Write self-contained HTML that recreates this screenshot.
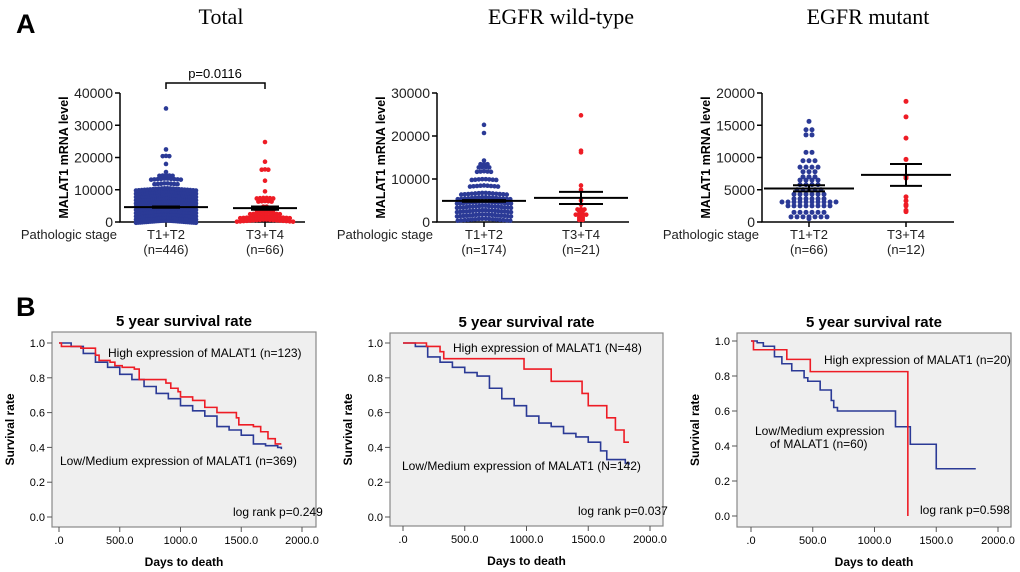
<!DOCTYPE html>
<html><head><meta charset="utf-8"><style>
html,body{margin:0;padding:0;background:#fff;}
svg{display:block;font-family:"Liberation Sans",Arial,sans-serif;}
</style></head><body>
<svg id="fig" width="1020" height="572" viewBox="0 0 1020 572">
<text x="16" y="33" font-size="27" font-weight="bold">A</text>
<text x="16" y="316" font-size="27" font-weight="bold">B</text>
<g font-family="Liberation Serif,serif" font-size="22" text-anchor="middle">
<text x="221" y="24">Total</text>
<text x="561" y="24">EGFR wild-type</text>
<text x="868" y="24">EGFR mutant</text>
</g>
<g id="scat"></g>
<g id="surv"></g>
</svg>
<script>
// ---------- Scatter data (value bins and dot counts) ----------
const a1BlueVals=[500,1500,2500,3500,4500,5500,6500,7500,8500,9500,10500,12000,13500,14500,15500,18000,20500,22500,35200];
const a1BlueCnt =[30,36,38,38,36,34,32,30,28,26,22,8,10,5,1,1,3,1,1];
const a1RedVals=[800,1800,2800,3800,4800,6500,7500,9500,12800,16300,18700,24800];
const a1RedCnt =[18,16,10,6,2,5,6,1,1,3,1,1];
const a2BlueVals=[800,1800,2800,3800,4800,5800,6800,8500,10000,11800,12800,13500,14300,20700,22600];
const a2BlueCnt =[16,18,18,18,18,16,14,9,8,5,4,3,1,1,1];
const a2RedVals=[500,1000,1500,1800,2500,3000,4000,5000,6500,7500,8500,16200,16600,24800];
const a2RedCnt =[2,2,2,4,2,3,1,1,0,1,1,1,1,1];
const a3BlueVals=[500,800,1500,2500,3100,3600,4300,5000,5800,6500,7000,7800,8500,9500,10800,13500,14300,15600];
const a3BlueCnt =[1,7,6,8,10,6,6,5,4,4,3,3,4,3,2,2,2,1];
const a3RedVals=[1600,1800,2500,2700,3300,3900,6800,7100,9700,13000,16300,18700];
const a3RedCnt =[1,1,1,1,1,1,1,1,1,1,1,1];
// mean, sem-hi, sem-lo
const a1Stats=[[4600,4800,4400],[4300,4800,3800]];
const a2Stats=[[4900,5100,4700],[5600,7000,4200]];
const a3Stats=[[5200,5700,4750],[7300,9000,5600]];
const a1Ticks=[0,10000,20000,30000,40000];
const a2Ticks=[0,10000,20000,30000];
const a3Ticks=[0,5000,10000,15000,20000];
const groupLabels=["T1+T2","T3+T4"];
const a1N=["(n=446)","(n=66)"], a2N=["(n=174)","(n=21)"], a3N=["(n=66)","(n=12)"];

// ---------- Survival data (step points: day, survival) ----------
const b1HighDays=[0,20,180,300,330,420,460,520,620,660,880,920,980,1000,1100,1200,1300,1460,1480,1600,1660,1720,1780,1830];
const b1HighSurv=[1,0.98,0.97,0.93,0.90,0.89,0.87,0.86,0.85,0.79,0.77,0.74,0.72,0.69,0.67,0.63,0.60,0.57,0.53,0.52,0.49,0.45,0.42,0.42];
const b1LowDays=[0,100,200,300,400,500,600,700,800,900,1000,1100,1200,1300,1400,1500,1600,1700,1800,1830];
const b1LowSurv=[1,0.98,0.94,0.89,0.86,0.82,0.79,0.75,0.71,0.68,0.64,0.61,0.58,0.52,0.50,0.47,0.42,0.41,0.40,0.39];
const b2HighDays=[0,190,300,330,980,1200,1450,1500,1650,1720,1790,1830];
const b2HighSurv=[1,0.98,0.95,0.91,0.85,0.78,0.71,0.64,0.57,0.50,0.43,0.43];
const b2LowDays=[0,100,200,300,400,500,600,700,800,900,1000,1100,1200,1300,1400,1500,1600,1650,1800,1830];
const b2LowSurv=[1,0.98,0.92,0.89,0.86,0.83,0.81,0.74,0.68,0.64,0.58,0.54,0.52,0.48,0.46,0.43,0.38,0.33,0.31,0.30];
const b3HighDays=[0,20,290,480,1270,1270];
const b3HighSurv=[1,0.95,0.895,0.825,0,0];
const b3LowDays=[0,50,100,190,250,330,430,460,560,650,670,700,1170,1290,1500,1820];
const b3LowSurv=[1,0.99,0.97,0.91,0.87,0.83,0.79,0.77,0.72,0.66,0.62,0.60,0.51,0.41,0.27,0.27];
const survTicksY=[0,0.2,0.4,0.6,0.8,1.0];
const survTicksX=[0,500,1000,1500,2000];
const survTickLabX=[".0","500.0","1000.0","1500.0","2000.0"];

const NS="http://www.w3.org/2000/svg";
function mk(tag,attrs,parent,text){const e=document.createElementNS(NS,tag);for(const k in attrs)e.setAttribute(k,attrs[k]);if(text!==undefined)e.textContent=text;parent.appendChild(e);return e;}
const scat=document.getElementById('scat'), surv=document.getElementById('surv');

function scatterPanel(p){
  const g=mk('g',{},scat);
  
  
  const y=v=>p.y0-(v/p.max)*(p.y0-p.y1);
  const ax=mk('path',{d:`M${p.ax},${p.y1}V${p.y0}H${p.xend}`,stroke:'#000','stroke-width':1.5,fill:'none'},g);
   
  p.ticks.forEach(t=>{
    mk('line',{x1:p.ax-5,x2:p.ax,y1:y(t),y2:y(t),stroke:'#000','stroke-width':1.5},g);
    const tl=mk('text',{x:p.ax-7,y:y(t)+5,'font-size':14,'text-anchor':'end',fill:'#222'},g,String(t));
     
  });
  p.centers.forEach((c,i)=>{
    mk('line',{x1:c,x2:c,y1:p.y0,y2:p.y0+5,stroke:'#000','stroke-width':1.5},g);
    const l1=mk('text',{x:c,y:p.y0+17,'font-size':13,'text-anchor':'middle',fill:'#222'},g,groupLabels[i]);
     
    const l2=mk('text',{x:c,y:p.y0+32,'font-size':13,'text-anchor':'middle',fill:'#222'},g,p.ns[i]);
     
  });
  const ps=mk('text',{x:p.psx,y:p.y0+17,'font-size':13,'text-anchor':'end',fill:'#222'},g,'Pathologic stage');
   
  const yt=mk('text',{transform:`translate(${p.ax-52},${(p.y0+p.y1)/2}) rotate(-90)`,'font-size':12.5,'font-weight':'bold','text-anchor':'middle'},g,'MALAT1 mRNA level');
   
  [[p.bv,p.bc,'#2b3a96',0],[p.rv,p.rc,'#ee1c25',1]].forEach(([vals,cnts,col,gi])=>{
    vals.forEach((v,k)=>{
      const c=cnts[k];
      const sp=c>1?Math.min(p.sp,2*p.half/(c-1)):p.sp;
      for(let i=0;i<c;i++){
        const cx=p.centers[gi]+(i-(c-1)/2)*sp;
        const d=mk('circle',{cx:cx,cy:y(v)+Math.abs(cx-p.centers[gi])*p.vs,r:p.r,fill:col},g);
         
      }
    });
  });
  p.stats.forEach((s,i)=>{
    const c=p.centers[i];
    const m=mk('line',{x1:c-p.mw[i],x2:c+p.mw[i],y1:y(s[0]),y2:y(s[0]),stroke:'#000','stroke-width':2},g);
     
    mk('line',{x1:c,x2:c,y1:y(s[1]),y2:y(s[2]),stroke:'#000','stroke-width':2},g);
    mk('line',{x1:c-p.cw,x2:c+p.cw,y1:y(s[1]),y2:y(s[1]),stroke:'#000','stroke-width':2},g);
    mk('line',{x1:c-p.cw,x2:c+p.cw,y1:y(s[2]),y2:y(s[2]),stroke:'#000','stroke-width':2},g);
  });
}
scatterPanel({name:'scatter-total',ax:120,xend:305,y0:222,y1:93,max:40000,ticks:a1Ticks,centers:[166,265],ns:a1N,psx:117,
  bv:a1BlueVals,bc:a1BlueCnt,rv:a1RedVals,rc:a1RedCnt,stats:a1Stats,sp:3.3,half:30,r:2.3,vs:0.08,mw:[42,32],cw:14});
scatterPanel({name:'scatter-egfr-wild-type',ax:437,xend:629,y0:222,y1:93,max:30000,ticks:a2Ticks,centers:[484,581],ns:a2N,psx:433,
  bv:a2BlueVals,bc:a2BlueCnt,rv:a2RedVals,rc:a2RedCnt,stats:a2Stats,sp:3.5,half:27,r:2.3,vs:0.08,mw:[42,47],cw:22});
scatterPanel({name:'scatter-egfr-mutant',ax:762,xend:954,y0:222,y1:93,max:20000,ticks:a3Ticks,centers:[809,906],ns:a3N,psx:759,
  bv:a3BlueVals,bc:a3BlueCnt,rv:a3RedVals,rc:a3RedCnt,stats:a3Stats,sp:6,half:32,r:2.5,vs:0,mw:[45,45],cw:16});
// p-value bracket
{const b=mk('path',{d:'M166,89V83H265V89',stroke:'#000','stroke-width':1.5,fill:'none'},scat);
 
const t=mk('text',{x:215,y:78,'font-size':13,'text-anchor':'middle'},scat,'p=0.0116');
 }

function survPanel(p){
  const g=mk('g',{},surv);
  
  
  const X=d=>p.x0+d/2000*(p.x2000-p.x0), Y=s=>p.y0-s*(p.y0-p.y1);
  const bx=mk('rect',{x:p.bl,y:p.bt,width:p.br-p.bl,height:p.bb-p.bt,fill:'#efefef',stroke:'#888','stroke-width':1.2},g);
   
  const tt=mk('text',{x:(p.bl+p.br)/2,y:p.bt-6,'font-size':15,'font-weight':'bold','text-anchor':'middle'},g,'5 year survival rate');
   
  survTicksY.forEach(t=>{
    mk('line',{x1:p.bl-5,x2:p.bl,y1:Y(t),y2:Y(t),stroke:'#555'},g);
    const l=mk('text',{x:p.bl-7,y:Y(t)+4,'font-size':11,'text-anchor':'end'},g,t.toFixed(1));
     
  });
  survTicksX.forEach((t,i)=>{
    mk('line',{x1:X(t),x2:X(t),y1:p.bb,y2:p.bb+5,stroke:'#555'},g);
    const l=mk('text',{x:X(t),y:p.bb+17,'font-size':11,'text-anchor':'middle'},g,survTickLabX[i]);
     
  });
  const xt=mk('text',{x:(p.bl+p.br)/2,y:p.bb+39,'font-size':12,'font-weight':'bold','text-anchor':'middle'},g,'Days to death');
   
  const yt=mk('text',{transform:`translate(${p.bl-38},${(p.bt+p.bb)/2}) rotate(-90)`,'font-size':12,'font-weight':'bold','text-anchor':'middle'},g,'Survival rate');
   
  [[p.ld,p.ls,'#2b3a96','low-expression-curve'],[p.hd,p.hs,'#ee1c25','high-expression-curve']].forEach(([D,S,col,nm])=>{
    let d=`M${X(D[0])},${Y(S[0])}`;
    for(let i=1;i<D.length;i++){d+=`H${X(D[i])}V${Y(S[i])}`;}
    const l=mk('path',{d:d,stroke:col,'stroke-width':1.6,fill:'none'},g);
     
  });
  p.labels.forEach(([x,y,t,nm])=>{const l=mk('text',{x:x,y:y,'font-size':12},g,t);
     });
}
survPanel({name:'survival-total',bl:52,br:316,bt:332,bb:527,x0:59,x2000:302,y0:517,y1:343,
  hd:b1HighDays,hs:b1HighSurv,ld:b1LowDays,ls:b1LowSurv,
  labels:[[108,357,'High expression of MALAT1 (n=123)','high-label'],[60,465,'Low/Medium expression of MALAT1 (n=369)','low-label'],[233,516,'log rank p=0.249','log-rank-label']]});
survPanel({name:'survival-egfr-wild-type',bl:390,br:663,bt:333,bb:526,x0:403,x2000:650,y0:517,y1:343,
  hd:b2HighDays,hs:b2HighSurv,ld:b2LowDays,ls:b2LowSurv,
  labels:[[453,352,'High expression of MALAT1 (N=48)','high-label'],[402,470,'Low/Medium expression of MALAT1 (N=142)','low-label'],[578,515,'log rank p=0.037','log-rank-label']]});
survPanel({name:'survival-egfr-mutant',bl:737,br:1011,bt:333,bb:527,x0:751,x2000:998,y0:516,y1:341,
  hd:b3HighDays,hs:b3HighSurv,ld:b3LowDays,ls:b3LowSurv,
  labels:[[824,364,'High expression of MALAT1 (n=20)','high-label'],[755,435,'Low/Medium expression','low-label'],[770,448,'of MALAT1 (n=60)','low-label-2'],[920,514,'log rank p=0.598','log-rank-label']]});
</script>
</body></html>
